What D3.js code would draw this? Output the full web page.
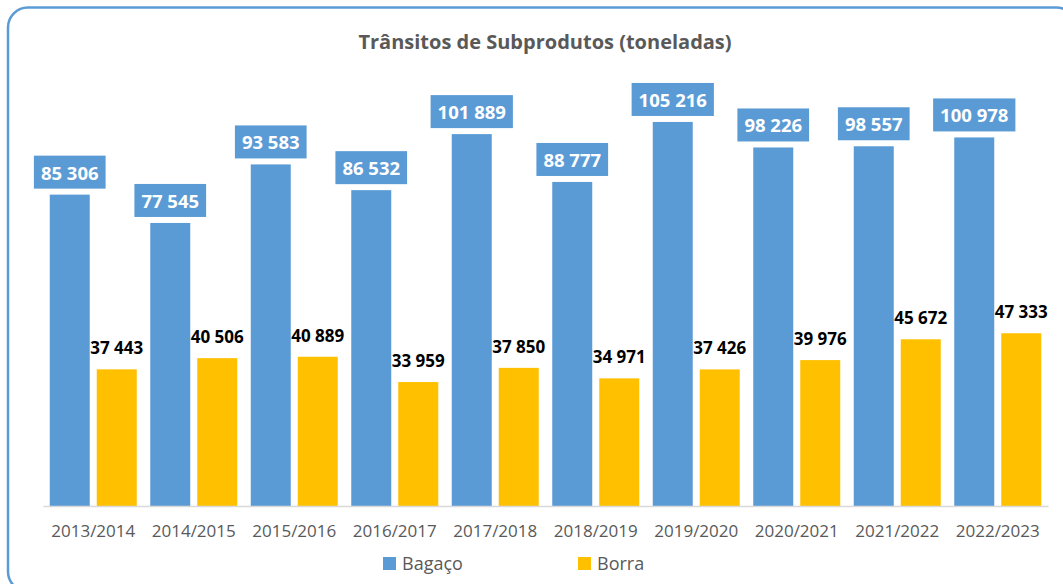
<!DOCTYPE html>
<html>
<head>
<meta charset="utf-8">
<script src="https://cdn.jsdelivr.net/npm/d3@7"></script>
<style>
  body { margin: 0; background: #fff; }
  svg { display: block; font-family: "Open Sans", sans-serif; }
</style>
</head>
<body>
<svg id="chart"></svg>
<script>
var svgWidth = 1063,
  svgHeight = 584;

var seasons = ["2013/2014", "2014/2015", "2015/2016", "2016/2017", "2017/2018",
  "2018/2019", "2019/2020", "2020/2021", "2021/2022", "2022/2023"];
var seriesNames = ["Bagaço", "Borra"];
var bagacoValues = [85306, 77545, 93583, 86532, 101889, 88777, 105216, 98226, 98557, 100978];
var borraValues = [37443, 40506, 40889, 33959, 37850, 34971, 37426, 39976, 45672, 47333];

var colors = { "Bagaço": "#5B9BD5", "Borra": "#FFC000" };

var plotLeft = 43,
  plotRight = 1048,
  plotTop = 68,
  plotBottom = 506;

var fmt = function (v) {
  return d3.format(",")(v).replace(/,/g, " ");
};

var svg = d3.select("#chart").attr("width", svgWidth).attr("height", svgHeight);

// frame
svg.append("rect")
  .attr("x", 8)
  .attr("y", 7.5)
  .attr("width", 1068)
  .attr("height", 584)
  .attr("rx", 20)
  .attr("fill", "none")
  .attr("stroke", "#5B9BD5")
  .attr("stroke-width", 2.5);

svg.append("text")
  .attr("x", 545)
  .attr("y", 49)
  .attr("text-anchor", "middle")
  .attr("font-size", "20px")
  .attr("font-weight", "bold")
  .attr("fill", "#595959")
  .text("Trânsitos de Subprodutos (toneladas)");

var xScale = d3.scaleBand().domain(seasons).range([plotLeft, plotRight]);
var xInner = d3.scaleBand().domain(seriesNames).range([0, xScale.bandwidth()])
  .paddingInner(0.149).paddingOuter(0.1436);
var yScale = d3.scaleLinear().domain([0, 120000]).range([plotBottom, plotTop]);

var rows = seasons.map(function (s, i) {
  return [
    { season: s, name: "Bagaço", value: bagacoValues[i] },
    { season: s, name: "Borra", value: borraValues[i] }
  ];
});

var groups = svg.selectAll(".grp")
  .data(rows)
  .enter()
  .append("g")
  .attr("class", "grp")
  .attr("transform", function (d) { return "translate(" + xScale(d[0].season) + ",0)"; });

groups.selectAll("rect")
  .data(function (d) { return d; })
  .enter()
  .append("rect")
  .attr("x", function (d) { return xInner(d.name); })
  .attr("y", function (d) { return yScale(d.value); })
  .attr("width", xInner.bandwidth())
  .attr("height", function (d) { return plotBottom - yScale(d.value); })
  .attr("fill", function (d) { return colors[d.name]; });

// x axis
svg.append("g")
  .attr("transform", "translate(0," + plotBottom + ")")
  .call(d3.axisBottom(xScale).tickSize(0).tickPadding(19))
  .call(function (g) {
    g.select(".domain").attr("stroke", "#D9D9D9").attr("stroke-width", 1.5);
  })
  .selectAll(".tick text")
  .attr("font-family", "Open Sans, sans-serif")
  .attr("font-size", "17px")
  .attr("fill", "#595959");

// Bagaço labels in boxes, Borra labels plain
groups.each(function (d) {
  var g = d3.select(this);
  var b = d[0];
  var cx = xInner(b.name) + xInner.bandwidth() / 2;
  var top = yScale(b.value);
  var lbl = g.append("g");
  var box = lbl.append("rect").attr("fill", "#5B9BD5");
  var t = lbl.append("text")
    .attr("x", cx)
    .attr("y", top - 15)
    .attr("text-anchor", "middle")
    .attr("font-size", "18.5px")
    .attr("font-weight", "bold")
    .attr("fill", "#fff")
    .text(fmt(b.value));
  var w = t.node().getComputedTextLength() + 14;
  box.attr("x", cx - w / 2)
    .attr("y", top - 39)
    .attr("width", w)
    .attr("height", 33);

  var o = d[1];
  g.append("text")
    .attr("x", xInner(o.name) + xInner.bandwidth() / 2)
    .attr("y", yScale(o.value) - 15)
    .attr("text-anchor", "middle")
    .attr("font-size", "17px")
    .attr("font-weight", "bold")
    .attr("fill", "#000")
    .text(fmt(o.value));
});

// legend
var legendX = [383, 578];
var legend = svg.selectAll(".leg")
  .data(seriesNames)
  .enter()
  .append("g")
  .attr("class", "leg")
  .attr("transform", function (d, i) { return "translate(" + legendX[i] + ",557)"; });

legend.append("rect")
  .attr("width", 13)
  .attr("height", 13)
  .attr("fill", function (d) { return colors[d]; });

legend.append("text")
  .attr("x", 19)
  .attr("y", 13)
  .attr("font-size", "18px")
  .attr("fill", "#595959")
  .text(function (d) { return d; });
</script>
</body>
</html>
